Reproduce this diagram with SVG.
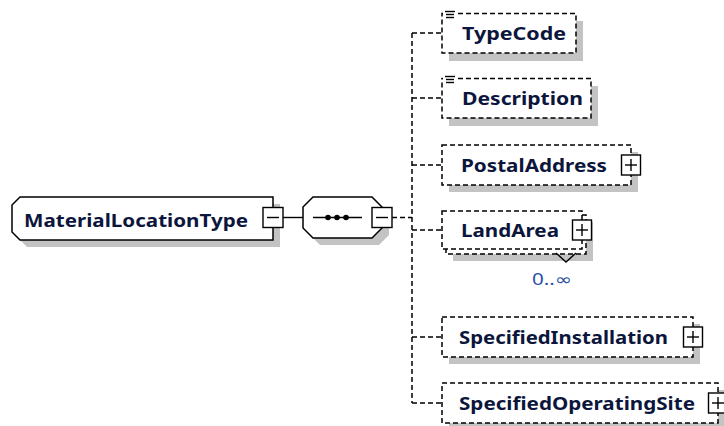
<svg xmlns="http://www.w3.org/2000/svg" width="724" height="426" viewBox="0 0 724 426">
  <style>
    .bg { fill: #ffffff; }
    .shadow { fill: #c3c3c3; stroke: none; }
    .solid { fill: #ffffff; stroke: #000000; stroke-width: 1.5; }
    .dash { fill: #ffffff; stroke: #000000; stroke-width: 1.5; stroke-dasharray: 5 3; }
    .wire { fill: none; stroke: #000000; stroke-width: 1.4; }
    .dwire { fill: none; stroke: #000000; stroke-width: 1.5; stroke-dasharray: 5 3; }
    .btn { fill: #ffffff; stroke: #000000; stroke-width: 1.4; }
    .name { font-family: "Noto Sans", "DejaVu Sans", sans-serif; font-weight: 700; font-size: 18px; fill: #0c163c; }
    .occ { font-family: "Noto Sans", "DejaVu Sans", sans-serif; font-size: 16px; fill: #2a4fa8; }
  </style>
  <defs>
    <g id="minus">
      <rect class="btn" x="-10" y="-10" width="20" height="20"/>
      <line class="wire" x1="-6" y1="0" x2="6" y2="0"/>
    </g>
    <g id="plus">
      <rect class="btn" x="-9.5" y="-10" width="19" height="20"/>
      <line class="wire" x1="-6" y1="0" x2="6" y2="0"/>
      <line class="wire" x1="0" y1="-6" x2="0" y2="6"/>
    </g>
    <g id="simple">
      <rect x="443" y="9" width="13" height="11" fill="#ffffff"/>
      <line class="wire" x1="445" y1="11.5" x2="455" y2="11.5"/>
      <line class="wire" x1="446" y1="14.5" x2="454" y2="14.5"/>
      <line class="wire" x1="446" y1="17.5" x2="454" y2="17.5"/>
    </g>
  </defs>
  <rect class="bg" x="0" y="0" width="724" height="426"/>

  <!-- connectors -->
  <g id="connectors">
    <line class="wire" x1="283" y1="217.5" x2="303" y2="217.5"/>
    <line class="dwire" x1="392" y1="217.5" x2="412" y2="217.5"/>
    <line class="dwire" x1="412" y1="33" x2="412" y2="403"/>
    <line class="dwire" x1="412" y1="33" x2="442" y2="33"/>
    <line class="dwire" x1="412" y1="98" x2="442" y2="98"/>
    <line class="dwire" x1="412" y1="165" x2="442" y2="165"/>
    <line class="dwire" x1="412" y1="230" x2="442" y2="230"/>
    <line class="dwire" x1="412" y1="337" x2="442" y2="337"/>
    <line class="dwire" x1="412" y1="403" x2="442" y2="403"/>
  </g>

  <!-- complex type root -->
  <g id="MaterialLocationType">
    <path class="shadow" d="M27 204 H280 V247 H27 L19 239 V212 Z"/>
    <path class="solid" d="M20 197 H273 V240 H20 L12 232 V205 Z"/>
    <text class="name" x="24" y="227" textLength="224" lengthAdjust="spacingAndGlyphs">MaterialLocationType</text>
    <use href="#minus" x="273" y="217.5"/>
  </g>

  <!-- sequence compositor -->
  <g id="sequence">
    <path class="shadow" d="M320 204 H379 L389 214 V235 L379 245 H320 L310 235 V214 Z"/>
    <path class="solid" d="M313 197 H372 L382 207 V228 L372 238 H313 L303 228 V207 Z"/>
    <line class="wire" x1="313" y1="217.5" x2="362" y2="217.5"/>
    <circle cx="328" cy="217.5" r="2.8"/>
    <circle cx="337" cy="217.5" r="2.8"/>
    <circle cx="346" cy="217.5" r="2.8"/>
    <use href="#minus" x="382" y="217.5"/>
  </g>

  <g id="TypeCode">
    <rect class="shadow" x="449" y="21" width="134" height="40"/>
    <rect class="dash" x="442" y="13.5" width="134" height="39.5"/>
    <use href="#simple"/>
    <text class="name" x="462" y="39.5" textLength="104" lengthAdjust="spacingAndGlyphs">TypeCode</text>
  </g>

  <g id="Description">
    <rect class="shadow" x="449" y="86" width="149" height="40"/>
    <rect class="dash" x="442" y="78.5" width="149" height="39.5"/>
    <use href="#simple" y="65"/>
    <text class="name" x="462" y="104.5" textLength="121" lengthAdjust="spacingAndGlyphs">Description</text>
  </g>

  <g id="PostalAddress">
    <rect class="shadow" x="449" y="152" width="189" height="40"/>
    <rect class="dash" x="442" y="145" width="189" height="40"/>
    <text class="name" x="461" y="171.5" textLength="146" lengthAdjust="spacingAndGlyphs">PostalAddress</text>
    <use href="#plus" x="631" y="165"/>
  </g>

  <g id="LandArea">
    <rect class="shadow" x="453" y="222" width="140" height="39"/>
    <rect class="dash" x="446" y="215" width="140" height="39"/>
    <rect class="dash" x="442" y="211" width="140" height="38"/>
    <polyline class="wire" points="556,253 566,262 576,253"/>
    <text class="name" x="461" y="236.5" textLength="98" lengthAdjust="spacingAndGlyphs">LandArea</text>
    <use href="#plus" x="582" y="230"/>
    <text class="occ" x="532" y="285" textLength="40" lengthAdjust="spacingAndGlyphs">0..∞</text>
  </g>

  <g id="SpecifiedInstallation">
    <rect class="shadow" x="449" y="324" width="251" height="40"/>
    <rect class="dash" x="442" y="317" width="251" height="40"/>
    <text class="name" x="459" y="343.5" textLength="209" lengthAdjust="spacingAndGlyphs">SpecifiedInstallation</text>
    <use href="#plus" x="693" y="337"/>
  </g>

  <g id="SpecifiedOperatingSite">
    <rect class="shadow" x="449" y="390" width="276" height="40"/>
    <rect class="dash" x="442" y="383" width="276" height="40"/>
    <text class="name" x="459" y="409.5" textLength="236" lengthAdjust="spacingAndGlyphs">SpecifiedOperatingSite</text>
    <use href="#plus" x="718" y="403"/>
  </g>
</svg>
